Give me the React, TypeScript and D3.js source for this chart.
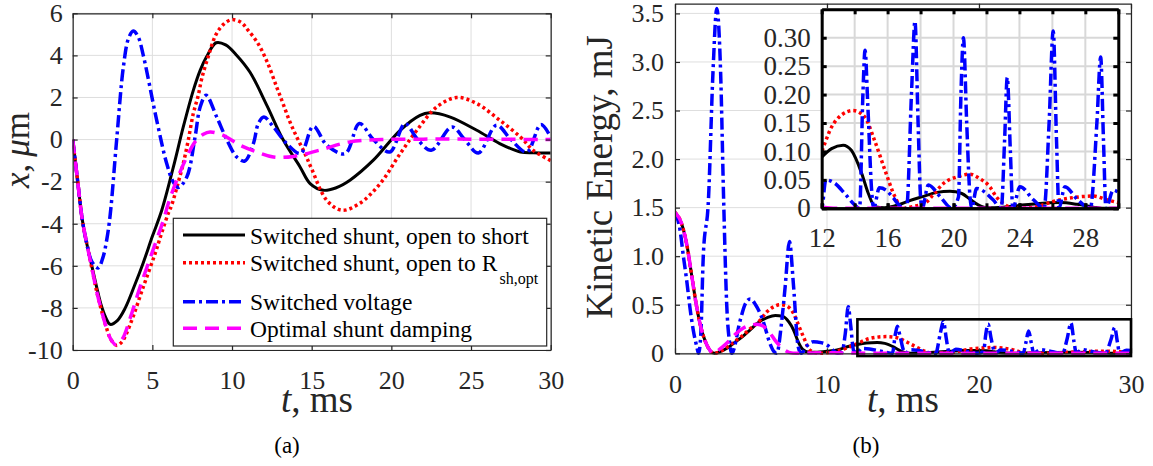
import React, { useEffect, useRef } from "react";
import * as d3 from "d3";

const W = 1153;
const H = 466;

// ---- (a) displacement x, um ----
const shortT = [0, 0.3, 0.6, 0.9, 1.2, 1.5, 1.8, 2.1, 2.35, 2.8, 3.3, 3.9, 4.43, 5.0, 5.59, 6.32, 6.94, 7.57, 8.0, 8.4, 9.0, 9.6, 10.3, 11.13, 12.2, 13.2, 14.27, 14.9, 15.73, 16.5, 17.4, 18.87, 20.55, 21.8, 22.4, 23.7, 25.36, 26.8, 28.1, 28.9, 30];
const shortX = [0, -1.9, -3.8, -5.0, -6.0, -7.0, -7.9, -8.5, -8.78, -8.6, -8.0, -6.9, -5.85, -4.6, -3.36, -1.3, 0.6, 2.34, 3.29, 3.93, 4.6, 4.5, 4.0, 3.2, 1.6, 0.0, -1.3, -2.09, -2.41, -2.3, -1.93, -0.98, 0.44, 1.15, 1.27, 1.07, 0.44, -0.19, -0.59, -0.63, -0.64];

const rshT = [0, 0.3, 0.6, 0.9, 1.2, 1.5, 1.8, 2.1, 2.4, 2.76, 3.1, 3.6, 4.43, 5.17, 5.6, 6.0, 6.21, 6.6, 6.94, 7.26, 7.57, 7.88, 8.1, 8.5, 9.0, 9.5, 10.0, 10.6, 11.0, 11.6, 12.2, 12.8, 13.2, 13.6, 14.06, 14.58, 15.0, 15.95, 16.9, 18.0, 19.3, 20.55, 21.6, 22.85, 24.1, 25.36, 26.8, 28.1, 28.9, 30];
const rshX = [0, -1.9, -3.8, -5.0, -6.1, -7.2, -8.1, -8.9, -9.5, -9.78, -9.6, -8.8, -7.0, -5.42, -4.4, -3.5, -3.12, -2.1, -1.14, 0.0, 1.24, 2.1, 2.9, 3.93, 5.0, 5.5, 5.7, 5.55, 5.2, 4.6, 3.7, 2.5, 1.71, 0.9, 0.12, -0.67, -1.4, -2.89, -3.36, -3.04, -2.09, -0.67, 0.44, 1.55, 2.0, 1.71, 0.92, 0.12, -0.51, -1.0];

const voltT = [0, 0.3, 0.6, 0.9, 1.2, 1.6, 1.9, 2.13, 2.35, 2.76, 3.18, 3.5, 3.8, 4.1, 4.43, 5.27, 5.9, 6.3, 6.63, 7.16, 7.68, 8.0, 8.37, 9.04, 9.67, 10.3, 10.8, 11.34, 11.65, 12.0, 12.6, 13.43, 14.3, 15.1, 15.95, 17.1, 17.99, 18.87, 19.9, 20.86, 21.6, 22.5, 23.8, 24.6, 25.46, 26.6, 27.5, 28.5, 29.38, 30];
const voltX = [0, -1.9, -3.8, -5.0, -5.8, -6.1, -5.6, -4.79, -3.6, 0.0, 3.45, 4.8, 5.16, 4.9, 4.0, 0.92, -1.14, -2.0, -2.28, -1.78, 0.12, 1.55, 2.1, 1.07, 0.0, -0.83, -1.02, -0.19, 0.76, 1.07, 0.6, -0.19, -0.66, 0.63, -0.27, -0.67, 0.76, 0.0, -0.59, 0.76, 0.05, -0.51, 0.6, 0.0, -0.64, 0.68, 0.0, -0.59, 0.71, 0.12];

const optT = [0, 0.3, 0.6, 0.9, 1.2, 1.5, 1.8, 2.1, 2.4, 2.7, 3.1, 3.6, 4.23, 4.96, 5.69, 6.0, 6.53, 7.16, 7.68, 8.2, 8.62, 9.45, 10.5, 11.55, 12.6, 13.85, 15.5, 17.4, 19.4, 22, 25, 30];
const optX = [0, -1.9, -3.8, -5.0, -6.1, -7.2, -8.1, -8.9, -9.5, -9.75, -9.5, -8.5, -7.0, -5.42, -3.84, -3.04, -1.93, -0.83, -0.11, 0.25, 0.36, 0.2, -0.27, -0.59, -0.83, -0.8, -0.5, -0.11, 0.0, 0.02, 0.02, 0.0];

// ---- (b) kinetic energy, mJ ----
const shortKeT = [0, 0.4, 0.8, 1.1, 1.4, 1.7, 2.0, 2.3, 2.6, 3.0, 3.5, 4.0, 4.5, 5.0, 5.6, 6.1, 6.6, 7.1, 7.5, 7.8, 8.1, 8.4, 8.8, 9.2, 10, 10.8, 11.4, 12, 12.6, 13.3, 13.8, 14.43, 14.83, 15.23, 15.8, 16.65, 17.3, 18.07, 19, 19.78, 20.5, 21, 21.5, 22, 23, 24, 25, 26.5, 27.5, 28.5, 29, 30];
const shortKe = [1.45, 1.35, 1.1, 0.8, 0.5, 0.27, 0.12, 0.03, 0.0, 0.02, 0.06, 0.12, 0.18, 0.25, 0.33, 0.37, 0.39, 0.38, 0.32, 0.24, 0.12, 0.04, 0.01, 0.01, 0.02, 0.04, 0.07, 0.09, 0.105, 0.111, 0.102, 0.061, 0.026, 0.003, 0.001, 0.006, 0.013, 0.02, 0.028, 0.03, 0.026, 0.016, 0.006, 0.001, 0.002, 0.005, 0.008, 0.01, 0.007, 0.002, 0.0, 0.0];

const rshKeT = [0, 0.4, 0.8, 1.1, 1.4, 1.7, 2.0, 2.3, 2.6, 3.0, 3.5, 4.0, 4.5, 5.0, 5.6, 6.0, 6.5, 6.9, 7.3, 7.8, 8.1, 8.45, 8.9, 9.5, 10.2, 10.8, 11.4, 12, 12.6, 13.2, 13.9, 14.6, 15.2, 15.84, 16.45, 16.9, 17.5, 18.27, 18.8, 19.4, 20.3, 21.0, 21.6, 22.2, 22.6, 23.0, 23.8, 24.9, 26.05, 27.3, 28.5, 29.3, 30];
const rshKe = [1.45, 1.35, 1.1, 0.8, 0.5, 0.27, 0.12, 0.03, 0.0, 0.02, 0.07, 0.13, 0.19, 0.26, 0.34, 0.42, 0.48, 0.5, 0.49, 0.41, 0.3, 0.17, 0.03, 0.0, 0.01, 0.03, 0.06, 0.1, 0.143, 0.164, 0.172, 0.161, 0.12, 0.067, 0.02, 0.0, 0.003, 0.009, 0.025, 0.044, 0.056, 0.06, 0.052, 0.038, 0.02, 0.009, 0.0, 0.002, 0.012, 0.019, 0.0215, 0.015, 0.01];

const voltKeT = [0, 0.33, 0.55, 0.77, 1.0, 1.2, 1.43, 1.55, 1.7, 1.86, 2.2, 2.5, 2.75, 3.0, 3.2, 3.4, 3.6, 3.73, 4.29, 4.6, 4.95, 5.3, 5.6, 5.8, 6.25, 6.5, 6.7, 7.0, 7.25, 7.53, 7.8, 8.1, 8.3, 8.7, 9.1, 9.6, 10.0, 10.4, 10.7, 11.0, 11.2, 11.4, 11.55, 11.75, 12.0, 12.25, 12.8, 13.4, 14.0, 14.3, 14.5, 14.63, 14.8, 15.03, 15.15, 15.5, 15.9, 16.3, 16.8, 17.15, 17.46, 17.66, 17.85, 18.0, 18.1, 18.47, 19.2, 19.9, 20.3, 20.45, 20.6, 20.8, 21.0, 21.1, 21.4, 22.4, 22.9, 23.1, 23.26, 23.45, 23.6, 24.03, 24.85, 25.5, 25.8, 26.05, 26.25, 26.4, 26.76, 27.5, 28.3, 28.7, 28.93, 29.1, 29.25, 29.7, 30];
const voltKe = [1.45, 1.27, 1.0, 0.75, 0.45, 0.24, 0.07, 0.0, 0.2, 1.0, 1.58, 2.9, 3.55, 2.9, 1.58, 0.51, 0.1, 0.0, 0.34, 0.5, 0.56, 0.5, 0.41, 0.33, 0.1, 0.02, 0.0, 0.3, 0.69, 1.15, 0.69, 0.07, 0.0, 0.08, 0.12, 0.11, 0.085, 0.03, 0.0, 0.02, 0.2, 0.48, 0.3, 0.03, 0.0, 0.05, 0.044, 0.026, 0.006, 0.0, 0.2, 0.278, 0.18, 0.032, 0.0, 0.036, 0.032, 0.02, 0.003, 0.0, 0.21, 0.329, 0.15, 0.02, 0.0, 0.041, 0.02, 0.0, 0.02, 0.2, 0.3, 0.15, 0.02, 0.0, 0.035, 0.015, 0.0, 0.12, 0.23, 0.1, 0.0, 0.038, 0.015, 0.0, 0.15, 0.312, 0.12, 0.0, 0.038, 0.016, 0.0, 0.15, 0.266, 0.12, 0.0, 0.032, 0.028];

const optKeT = [0, 0.4, 0.8, 1.1, 1.4, 1.7, 2.0, 2.3, 2.5, 3.0, 3.5, 4.0, 4.5, 5.0, 5.4, 5.8, 6.2, 6.6, 7.0, 7.5, 8.0, 9, 10, 11, 12, 13, 30];
const optKe = [1.45, 1.35, 1.1, 0.8, 0.5, 0.27, 0.12, 0.03, 0.0, 0.05, 0.12, 0.2, 0.26, 0.29, 0.3, 0.28, 0.22, 0.13, 0.06, 0.01, 0.0, 0.003, 0.005, 0.004, 0.002, 0.0, 0.0];

const seriesNames = ["Switched shunt, open to short", "Switched shunt, open to R", "Switched voltage", "Optimal shunt damping"];
const seriesSub = ["", "sh,opt", "", ""];

const xTicksA = [0, 5, 10, 15, 20, 25, 30];
const yTicksA = [-10, -8, -6, -4, -2, 0, 2, 4, 6];
const xTicksB = [0, 10, 20, 30];
const yTicksB = [0, 0.5, 1.0, 1.5, 2.0, 2.5, 3.0, 3.5];
const xLabelsInset = [12, 16, 20, 24, 28];
const xGridInset = [12, 14, 16, 18, 20, 22, 24, 26, 28, 30];
const yTicksInset = [0, 0.05, 0.1, 0.15, 0.2, 0.25, 0.3];

const styles = [
  { color: "#000000", dash: null, width: 3 },
  { color: "#ff0000", dash: "3,3", width: 3.5 },
  { color: "#0000ff", dash: "12,4,3,4", width: 3.5 },
  { color: "#ff00ff", dash: "14,8", width: 3.5 },
];

const FONT = "'Liberation Serif', 'Times New Roman', serif";
const AXC = "#262626";
const GRID = "#dedede";

const pairs = (t: number[], v: number[]) => t.map((d, i) => [d, v[i]] as [number, number]);

export default function App() {
  const ref = useRef<SVGSVGElement>(null);

  useEffect(() => {
    const svg = d3.select(ref.current);
    svg.selectAll("*").remove();

    const frame = (x: any, y: any, o: any) => {
      const [x0, x1] = x.range();
      const [y0, y1] = y.range();
      const g = svg.append("g");
      g.selectAll(".gx").data(o.gridX).join("line")
        .attr("x1", (d: number) => x(d)).attr("x2", (d: number) => x(d))
        .attr("y1", y0).attr("y2", y1)
        .attr("stroke", o.gridColor || GRID).attr("stroke-width", o.gridWidth || 1);
      g.selectAll(".gy").data(o.gridY).join("line")
        .attr("y1", (d: number) => y(d)).attr("y2", (d: number) => y(d))
        .attr("x1", x0).attr("x2", x1)
        .attr("stroke", o.gridColor || GRID).attr("stroke-width", o.gridWidth || 1);
    };

    const axes = (x: any, y: any, o: any) => {
      const [x0, x1] = x.range();
      const [y0, y1] = y.range();
      const g = svg.append("g");
      const t = o.tick || 5;
      g.append("g").attr("transform", `translate(0,${y0})`)
        .call(d3.axisBottom(x).tickValues(o.xTicks).tickFormat(o.xFmt).tickSizeInner(-t).tickSizeOuter(0).tickPadding(o.xPad));
      g.append("g").attr("transform", `translate(0,${y1})`)
        .call(d3.axisTop(x).tickValues(o.xTickMarks || o.xTicks).tickFormat(() => "").tickSizeInner(-t).tickSizeOuter(0));
      g.append("g").attr("transform", `translate(${x0},0)`)
        .call(d3.axisLeft(y).tickValues(o.yTicks).tickFormat(o.yFmt).tickSizeInner(-t).tickSizeOuter(0).tickPadding(o.yPad));
      g.append("g").attr("transform", `translate(${x1},0)`)
        .call(d3.axisRight(y).tickValues(o.yTicks).tickFormat(() => "").tickSizeInner(-t).tickSizeOuter(0));
      // the inset has tick marks at every grid line, labels every other one
      if (o.xTickMarks) {
        g.append("g").attr("transform", `translate(0,${y0})`)
          .call(d3.axisBottom(x).tickValues(o.xTickMarks).tickFormat(() => "").tickSizeInner(-t).tickSizeOuter(0));
      }
      g.selectAll(".domain").attr("stroke", o.color).attr("stroke-width", o.lw);
      g.selectAll(".tick line").attr("stroke", o.color).attr("stroke-width", o.lw);
      g.selectAll("text").attr("fill", "#262626").attr("font-family", FONT).attr("font-size", o.fs);
    };

    const drawLines = (x: any, y: any, data: [number, number][][], clipId: string, curve: any) => {
      const line = d3.line<[number, number]>().x((d) => x(d[0])).y((d) => y(d[1])).curve(curve);
      const g = svg.append("g").attr("clip-path", `url(#${clipId})`);
      data.forEach((d, i) => {
        const s = styles[i];
        g.append("path").attr("d", line(d) as string)
          .attr("fill", "none").attr("stroke", s.color)
          .attr("stroke-width", s.width)
          .attr("stroke-dasharray", s.dash)
          .attr("stroke-linejoin", "round");
      });
    };

    const defs = svg.append("defs");
    const clip = (id: string, x: any, y: any) => {
      const [x0, x1] = x.range();
      const [y0, y1] = y.range();
      defs.append("clipPath").attr("id", id).append("rect")
        .attr("x", x0).attr("y", y1 - 2).attr("width", x1 - x0).attr("height", y0 - y1 + 4);
    };

    const tLabel = (cx: number) => {
      svg.append("text").attr("x", cx).attr("y", 412).attr("text-anchor", "middle")
        .attr("font-family", FONT).attr("font-size", 37).attr("fill", "#262626")
        .call((t: any) => {
          t.append("tspan").attr("font-style", "italic").text("t");
          t.append("tspan").text(", ms");
        });
    };

    // ===== (a) =====
    const xA = d3.scaleLinear().domain([0, 30]).range([72.7, 550.7]);
    const yA = d3.scaleLinear().domain([-10, 6]).range([350, 13.3]);
    clip("clipA", xA, yA);
    frame(xA, yA, { gridX: xTicksA, gridY: yTicksA });
    drawLines(xA, yA, [pairs(shortT, shortX), pairs(rshT, rshX), pairs(voltT, voltX), pairs(optT, optX)], "clipA", d3.curveCatmullRom.alpha(0.5));
    axes(xA, yA, { xTicks: xTicksA, yTicks: yTicksA, xFmt: (d: number) => String(d), yFmt: (d: number) => String(d), xPad: 21, yPad: 10, color: AXC, lw: 1.2, fs: 26 });

    // legend
    const lg = svg.append("g");
    lg.append("rect").attr("x", 173.3).attr("y", 218.3).attr("width", 373.4).attr("height", 127.7)
      .attr("fill", "#fff").attr("stroke", AXC).attr("stroke-width", 1.2);
    const rowY = [235, 262.7, 301.7, 328.3];
    seriesNames.forEach((name, i) => {
      const s = styles[i];
      lg.append("line").attr("x1", 183).attr("x2", 245).attr("y1", rowY[i]).attr("y2", rowY[i])
        .attr("stroke", s.color).attr("stroke-width", s.width).attr("stroke-dasharray", s.dash);
      const tx = lg.append("text").attr("x", 250).attr("y", rowY[i] + 8.5)
        .attr("font-family", FONT).attr("font-size", 23.5).attr("fill", "#000").text(name);
      if (seriesSub[i]) {
        tx.append("tspan").attr("dy", 13).attr("dx", 2).attr("font-size", 16).text(seriesSub[i]);
      }
    });

    // axis labels (a)
    svg.append("text").attr("transform", "translate(29,150) rotate(-90)").attr("text-anchor", "middle")
      .attr("font-family", FONT).attr("font-size", 35).attr("fill", "#262626")
      .call((t: any) => {
        t.append("tspan").attr("font-style", "italic").text("x");
        t.append("tspan").text(",\u2009");
        t.append("tspan").attr("font-style", "italic").text("\u03bc");
        t.append("tspan").text("m");
      });
    tLabel(317);
    svg.append("text").attr("x", 287).attr("y", 453).attr("text-anchor", "middle")
      .attr("font-family", FONT).attr("font-size", 23).attr("fill", "#000").text("(a)");

    // ===== (b) =====
    const xB = d3.scaleLinear().domain([0, 30]).range([675, 1131]);
    const yB = d3.scaleLinear().domain([0, 3.6]).range([353.3, 3.7]);
    clip("clipB", xB, yB);
    frame(xB, yB, { gridX: xTicksB, gridY: yTicksB });
    const keData = [pairs(shortKeT, shortKe), pairs(rshKeT, rshKe), pairs(voltKeT, voltKe), pairs(optKeT, optKe)];
    drawLines(xB, yB, keData, "clipB", d3.curveMonotoneX);
    axes(xB, yB, { xTicks: xTicksB, yTicks: yTicksB, xFmt: (d: number) => String(d), yFmt: (d: number) => (d === 0 ? "0" : d3.format(".1f")(d)), xPad: 21, yPad: 11, color: AXC, lw: 1.2, fs: 26 });

    // zoom rectangle
    svg.append("rect").attr("x", xB(12)).attr("y", yB(0.35)).attr("width", xB(30) - xB(12)).attr("height", yB(-0.028) - yB(0.35))
      .attr("fill", "none").attr("stroke", "#000").attr("stroke-width", 2.6);

    svg.append("text").attr("transform", "translate(612,177) rotate(-90)").attr("text-anchor", "middle")
      .attr("font-family", FONT).attr("font-size", 37).attr("fill", "#262626").text("Kinetic Energy, mJ");
    tLabel(903);
    svg.append("text").attr("x", 866).attr("y", 453).attr("text-anchor", "middle")
      .attr("font-family", FONT).attr("font-size", 23).attr("fill", "#000").text("(b)");

    // ===== inset =====
    const xI = d3.scaleLinear().domain([12, 30]).range([821.7, 1118.3]);
    const yI = d3.scaleLinear().domain([0, 0.35]).range([208.3, 9.3]);
    svg.append("rect").attr("x", 821.7).attr("y", 9.3).attr("width", 296.6).attr("height", 199).attr("fill", "#fff");
    defs.append("clipPath").attr("id", "clipI").append("rect")
      .attr("x", 821.7).attr("y", 7).attr("width", 296.6).attr("height", 203);
    frame(xI, yI, { gridX: xGridInset, gridY: [...yTicksInset, 0.35], gridWidth: 2, gridColor: "#d8d8d8" });
    drawLines(xI, yI, keData, "clipI", d3.curveMonotoneX);
    axes(xI, yI, { xTicks: xLabelsInset, xTickMarks: xGridInset, yTicks: yTicksInset, xFmt: (d: number) => String(d), yFmt: (d: number) => (d === 0 ? "0" : d3.format(".2f")(d)), xPad: 20, yPad: 11, color: "#000", lw: 3, fs: 27 });
  }, []);

  return (
    <svg ref={ref} width={W} height={H} style={{ position: "absolute", left: 0, top: 0, background: "#fff" }} />
  );
}
